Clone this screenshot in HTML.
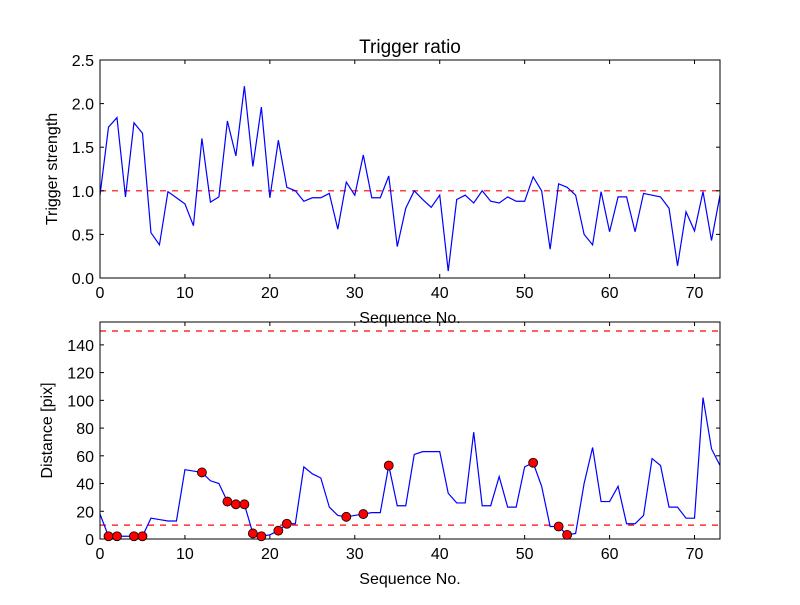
<!DOCTYPE html>
<html><head><meta charset="utf-8"><style>
body{margin:0;background:#fff;font-family:"Liberation Sans",sans-serif}
</style></head><body>
<svg id="c" width="800" height="600" xmlns="http://www.w3.org/2000/svg" font-family="Liberation Sans, sans-serif"></svg>
<script>
const seq = Array.from({length:74},(_, i)=>i);
const ratio=[0.95,1.73,1.84,0.93,1.78,1.66,0.52,0.38,0.99,0.92,0.85,0.6,1.6,0.87,0.93,1.8,1.4,2.2,1.28,1.96,0.92,1.58,1.04,1.0,0.88,0.92,0.92,0.97,0.56,1.1,0.95,1.41,0.92,0.92,1.17,0.36,0.8,1.0,0.9,0.81,0.95,0.08,0.9,0.95,0.86,1.0,0.88,0.86,0.93,0.88,0.88,1.16,1.0,0.33,1.08,1.04,0.95,0.5,0.38,0.99,0.53,0.93,0.93,0.53,0.97,0.95,0.93,0.8,0.14,0.76,0.54,0.99,0.43,0.95];
const dist=[18,2,2,2,2,2,15,14,13,13,50,49,48,42,40,27,25,25,4,2,3,6,11,11,52,47,44,23,17,16,17,18,19,19,53,24,24,61,63,63,63,33,26,26,77,24,24,45,23,23,52,55,38,9,9,3,4,40,66,27,27,38,11,11,17,58,53,23,23,15,15,102,65,53];
const flagged=[1,2,4,5,12,15,16,17,18,19,21,22,29,31,34,51,54,55];
const xTicks=[0,10,20,30,40,50,60,70];
const yTicksTop=[0,0.5,1.0,1.5,2.0,2.5];
const yTicksBot=[0,20,40,60,80,100,120,140];
const NS="http://www.w3.org/2000/svg", svg=document.getElementById('c');
function el(t,a,txt){const e=document.createElementNS(NS,t);for(const k in a)e.setAttribute(k,a[k]);if(txt!==undefined)e.textContent=txt;svg.appendChild(e);return e;}
const L=100,R=720;
const sx=v=>L+(v-0)/(73-0)*(R-L);
function panel(top,bot,ymin,ymax,ticks,fmt,ydata,refs,ylabel,name){
  const sy=v=>bot-(v-ymin)/(ymax-ymin)*(bot-top);
  refs.forEach((r,i)=>{const e=el('line',{x1:L,x2:R,y1:sy(r),y2:sy(r),stroke:'#f00','stroke-width':1.2,'stroke-dasharray':'6,6'});
    });
  const p=el('polyline',{points:ydata.map((v,i)=>sx(seq[i])+','+sy(v)).join(' '),fill:'none',stroke:'#00f','stroke-width':1.2});
  
  const ax=el('rect',{x:L,y:top,width:R-L,height:bot-top,fill:'none',stroke:'#000','stroke-width':1});
  
  xTicks.forEach(t=>{const x=sx(t);el('line',{x1:x,x2:x,y1:bot,y2:bot-4,stroke:'#000'});el('line',{x1:x,x2:x,y1:top,y2:top+4,stroke:'#000'});
    const tx=el('text',{x:x,y:bot+20,'text-anchor':'middle','font-size':16},String(t));
    });
  ticks.forEach(t=>{const y=sy(t);el('line',{x1:L,x2:L+4,y1:y,y2:y,stroke:'#000'});el('line',{x1:R,x2:R-4,y1:y,y2:y,stroke:'#000'});
    const tx=el('text',{x:L-6,y:y+6,'text-anchor':'end','font-size':16},fmt(t));
    });
  const xl=el('text',{x:(L+R)/2,y:bot+45,'text-anchor':'middle','font-size':16},'Sequence No.');
  
  const cy=(top+bot)/2;
  const yl=el('text',{x:0,y:0,'text-anchor':'middle','font-size':16,transform:`translate(${name==='top'?57:52},${cy}) rotate(-90)`},ylabel);
  
  return sy;
}
const syT=panel(60,278,0,2.5,yTicksTop,t=>t.toFixed(1),ratio,[1.0],'Trigger strength','top');
const syB=panel(322,539,0,156.5,yTicksBot,t=>String(t),dist,[10,150],'Distance [pix]','bottom');
flagged.forEach(i=>{const c=el('circle',{cx:sx(seq[i]),cy:syB(dist[i]),r:4.5,fill:'#f00',stroke:'#000','stroke-width':0.8});
  });
const t=el('text',{x:410,y:53,'text-anchor':'middle','font-size':19},'Trigger ratio');

</script>
</body></html>
